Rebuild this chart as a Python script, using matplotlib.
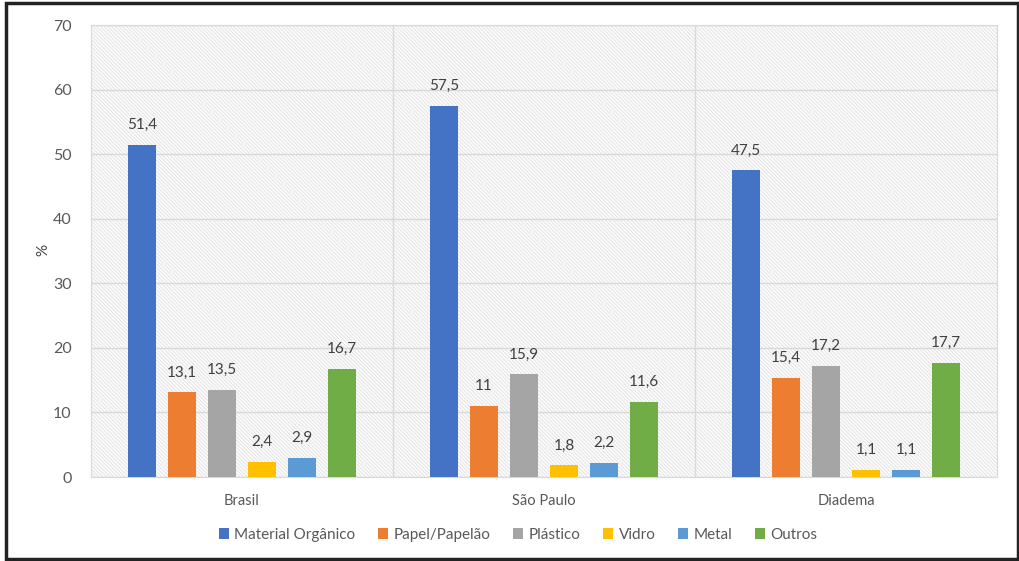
import matplotlib.pyplot as plt
import numpy as np
from matplotlib.patches import Rectangle

plt.rcParams['font.family'] = ['Lato', 'DejaVu Sans']
plt.rcParams['hatch.linewidth'] = 0.5

regioes = ['Brasil', 'São Paulo', 'Diadema']
series = ['Material Orgânico', 'Papel/Papelão', 'Plástico', 'Vidro', 'Metal', 'Outros']
organico = [51.4, 57.5, 47.5]
papel = [13.1, 11, 15.4]
plastico = [13.5, 15.9, 17.2]
vidro = [2.4, 1.8, 1.1]
metal = [2.9, 2.2, 1.1]
outros = [16.7, 11.6, 17.7]
valores = [organico, papel, plastico, vidro, metal, outros]
cores = ['#4472C4', '#ED7D31', '#A5A5A5', '#FFC000', '#5B9BD5', '#70AD47']

fig = plt.figure(figsize=(10.2, 5.61), dpi=100)
ax = fig.add_axes([0.0892, 0.1497, 0.8883, 0.8057])

# hatched background
ax.add_patch(Rectangle((0, 0), 1, 1, transform=ax.transAxes, facecolor='#fbfbfb',
                       edgecolor='#dcdcdc', linewidth=0, hatch='\\' * 9, zorder=0))

x = np.arange(len(regioes))
passo = 0.1325
larg = 0.093
for i, (nome, vals, cor) in enumerate(zip(series, valores, cores)):
    pos = x + (i - 2.5) * passo
    ax.bar(pos, vals, width=larg, color=cor, label=nome, zorder=3)
    for px, v in zip(pos, vals):
        txt = ('%g' % v).replace('.', ',')
        ax.text(px, v + 2.0, txt, ha='center', va='bottom', fontsize=11, color='#404040', zorder=4)

ax.set_xlim(-0.5, 2.5)
ax.set_ylim(0, 70)
ax.set_yticks(range(0, 71, 10))
ax.set_xticks(x)
ax.set_xticklabels(regioes)
ax.tick_params(axis='y', length=0, labelsize=11.5, colors='#595959', pad=14)
ax.tick_params(axis='x', length=0, labelsize=10.5, colors='#595959', pad=12)
ax.grid(axis='y', color='#d9d9d9', linewidth=1, zorder=1)
for b in [0.5, 1.5]:
    ax.axvline(b, color='#d9d9d9', linewidth=1, zorder=1)
for s in ax.spines.values():
    s.set_color('#d9d9d9')
fig.text(43 / 1020, 1 - 250 / 561, '%', rotation=90, ha='center', va='center',
         fontsize=11, color='#404040')

ax.legend(loc='center', bbox_to_anchor=(0.508, 0.0465), bbox_transform=fig.transFigure,
          ncol=6, frameon=False, fontsize=11, handlelength=0.65, handleheight=0.65,
          handletextpad=0.35, columnspacing=1.5, labelcolor='#595959')

# outer frame
fig.patches.append(Rectangle((0.006, 0.004), 0.992, 0.99, transform=fig.transFigure,
                             fill=False, edgecolor='#222222', linewidth=2.5))

fig.savefig('out.png', dpi=100)
